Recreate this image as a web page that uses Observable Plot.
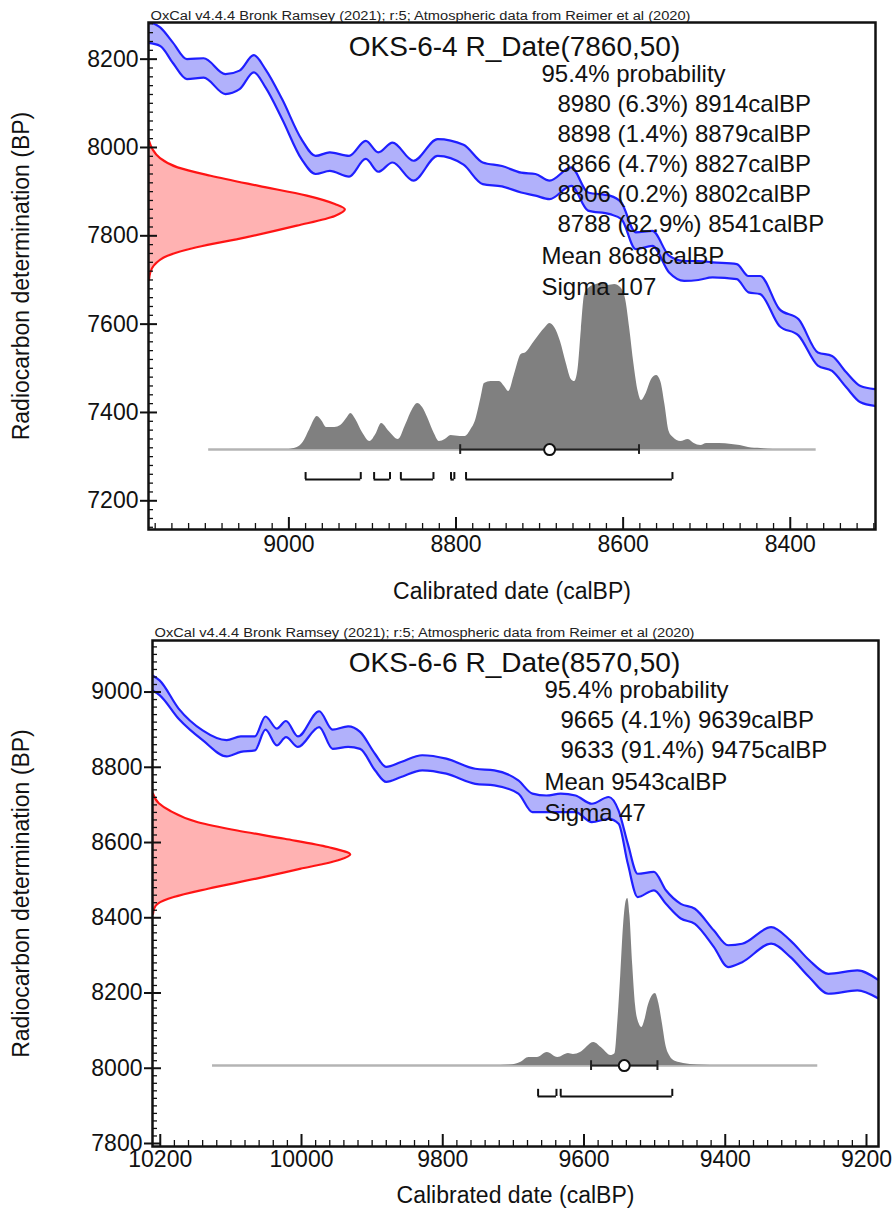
<!DOCTYPE html>
<html><head><meta charset="utf-8">
<script src="https://cdn.jsdelivr.net/npm/d3@7"></script>
<script src="https://cdn.jsdelivr.net/npm/@observablehq/plot@0.6"></script>
<style>
body{margin:0;background:#fff;}
#wrap{width:892px;}
svg{display:block;}
</style></head><body><div id="wrap"></div>
<script>
// ---------------- shared text ----------------
const credit = "OxCal v4.4.4 Bronk Ramsey (2021); r:5; Atmospheric data from Reimer et al (2020)";
const xLabel = "Calibrated date (calBP)";
const yLabel = "Radiocarbon determination (BP)";

// ---------------- chart 1: OKS-6-4 ----------------
const c1Sample = "OKS-6-4";
const c1Date = [7860, 50];
const c1From = [8980, 8898, 8866, 8806, 8788];
const c1To   = [8914, 8879, 8827, 8802, 8541];
const c1Pct  = ["6.3", "1.4", "4.7", "0.2", "82.9"];
const c1Mean = 8688, c1Sigma = 107;
const c1XTicks = [9000, 8800, 8600, 8400];
const c1YTicks = [7200, 7400, 7600, 7800, 8000, 8200];
const c1CurveCal = [9170,9154,9139,9122,9102,9076,9059,9042,9028,9008,8985,8968,8951,8928,8908,8893,8876,8851,8822,8791,8768,8745,8722,8705,8688,8662,8642,8616,8602,8585,8565,8545,8527,8510,8493,8464,8450,8436,8413,8390,8367,8350,8333,8316,8299];
const c1CurveHi  = [8285,8272,8238,8200,8202,8166,8174,8209,8177,8109,8019,7981,7989,7981,8015,7989,8011,7970,8019,8006,7966,7958,7943,7940,7925,7955,7898,7891,7875,7808,7811,7755,7743,7743,7740,7736,7709,7709,7634,7611,7536,7528,7491,7460,7453];
const c1CurveLo  = [8237,8230,8192,8155,8158,8121,8132,8170,8136,8064,7974,7940,7947,7934,7974,7945,7966,7925,7981,7961,7917,7912,7898,7891,7883,7913,7857,7849,7838,7770,7777,7717,7698,7700,7706,7702,7672,7668,7596,7574,7506,7494,7457,7423,7415];
const c1RedBP = [8015,7996,7977,7955,7936,7913,7891,7872,7860,7845,7823,7796,7774,7755,7732,7715,7700];
const c1RedD  = [0.5,4,11,29,62,110,158,186,196,186,148,96,48,19,5,1.5,0.5];
const c1PostCal = [9000,8990,8983,8975,8966,8960,8955,8945,8938,8930,8926,8920,8912,8903,8896,8889,8880,8869,8860,8852,8846,8840,8834,8826,8820,8813,8806,8795,8789,8782,8777,8770,8766,8758,8748,8742,8737,8730,8722,8716,8708,8700,8693,8688,8682,8675,8668,8662,8658,8654,8650,8646,8640,8632,8625,8618,8610,8603,8597,8592,8587,8582,8578,8573,8566,8560,8555,8550,8545,8540,8531,8522,8515,8507,8500,8485,8470,8460,8450,8435,8420];
const c1PostP   = [0,2,7,20,33,28,22,22,24,32,36,30,17,8,15,26,18,10,25,40,46,42,32,16,8,10,14,13,13,20,28,52,66,68,68,63,58,75,95,97,106,115,122,126,122,108,86,70,68,80,120,155,162,165,167,164,165,162,150,120,85,58,49,55,70,74,68,45,18,12,8,10,6,4,6,6,5,4,2,1,0];
const c1Span = [9096, 8369];

// ---------------- chart 2: OKS-6-6 ----------------
const c2Sample = "OKS-6-6";
const c2Date = [8570, 50];
const c2From = [9665, 9633];
const c2To   = [9639, 9475];
const c2Pct  = ["4.1", "91.4"];
const c2Mean = 9543, c2Sigma = 47;
const c2XTicks = [10200, 10000, 9800, 9600, 9400, 9200];
const c2YTicks = [7800, 8000, 8200, 8400, 8600, 8800, 9000];
const c2CurveCal = [10211,10201,10174,10140,10106,10086,10066,10051,10035,10022,10005,9975,9956,9934,9917,9896,9880,9859,9829,9795,9754,9727,9693,9673,9653,9633,9612,9589,9565,9551,9538,9524,9501,9484,9463,9443,9416,9396,9376,9335,9308,9281,9254,9213,9183];
const c2CurveHi  = [9044,9031,8956,8898,8872,8882,8882,8935,8903,8923,8882,8949,8900,8909,8894,8836,8801,8814,8832,8823,8796,8792,8765,8730,8725,8730,8725,8703,8721,8685,8597,8517,8522,8473,8437,8424,8366,8327,8331,8375,8340,8287,8251,8260,8234];
const c2CurveLo  = [9004,8992,8929,8872,8829,8841,8845,8900,8858,8880,8854,8907,8849,8854,8849,8792,8761,8774,8792,8783,8756,8752,8730,8681,8681,8681,8681,8654,8663,8650,8544,8455,8473,8437,8398,8384,8322,8269,8282,8331,8296,8242,8198,8207,8185];
const c2RedBP = [8730,8705,8685,8654,8632,8610,8588,8568,8553,8530,8504,8477,8455,8437,8424,8410];
const c2RedD  = [0.5,6,17,45,84,131,174,196,184,146,103,55,21,5,1.5,0.5];
const c2PostCal = [9718,9704,9690,9678,9666,9652,9637,9622,9615,9605,9586,9574,9562,9556,9552,9548,9544,9540,9538,9535,9531,9527,9522,9518,9514,9509,9503,9499,9494,9489,9484,9478,9473,9465,9459,9440,9421];
const c2PostP   = [0,0.5,3,8,8,13,8,12,11,13,23,17,10,12,45,90,140,165,167,150,100,60,42,38,45,60,70,72,62,42,20,9,5,3,2,0.5,0];
const c2Span = [10126, 9269];

const FONT = "'Liberation Sans', Arial, sans-serif";

function chart(c) {
  const plotW = 892 - c.ml - c.mr, plotH = c.h - c.mt - c.mb;
  const curve = c.cal.map((x, i) => ({x, hi: c.hi[i], lo: c.lo[i]}));
  const rMax = d3.max(c.redD);
  const red = c.redBP.map((y, i) => ({y, x0: c.xDomain[0], x: c.xDomain[0] - c.redD[i] / rMax * c.redSpan}));
  const pMax = d3.max(c.postP);
  const post = c.postCal.map((x, i) => ({x, y: c.base + c.postP[i] / pMax * c.postSpan}));
  const ranges = c.from.map((f, i) => ({f, t: c.to[i]}));
  const ends = ranges.flatMap(r => [r.f, r.t]);
  const bY = c.base - c.bracketGap;
  const xMinor = d3.range(Math.ceil(Math.min(...c.xDomain) / 20) * 20, Math.max(...c.xDomain), 20).filter(v => v % 200 !== 0);
  const yMinor = d3.range(Math.ceil(c.yDomain[0] / 20) * 20, c.yDomain[1], 20).filter(v => v % 200 !== 0);
  const txt = (s, dx, dy, o = {}) => Plot.text([s], {text: d => d, frameAnchor: "top-left", dx, dy, textAnchor: "start", lineAnchor: "middle", fontSize: 24, fill: "#111", ...o});
  const lines = [
    txt(credit, 2, c.creditDy, {fontSize: 12.5, fill: "#222"}),
    txt(`${c.sample} R_Date(${c.date[0]},${c.date[1]})`, c.titleDx, c.t0 - 27, {textAnchor: "middle", fontSize: 28}),
    txt("95.4% probability", c.textDx, c.t0)
  ];
  c.from.forEach((f, i) => lines.push(txt(`${f} (${c.pct[i]}%) ${c.to[i]}calBP`, c.textDx + 16, c.t0 + c.ls * (i + 1))));
  lines.push(txt(`Mean ${c.mean}calBP`, c.textDx, c.t0 + c.ls * (c.from.length + 1) + 2));
  lines.push(txt(`Sigma ${c.sigma}`, c.textDx, c.t0 + c.ls * (c.from.length + 2) + 3));

  const svg = Plot.plot({
    width: 892, height: c.h,
    marginLeft: c.ml, marginRight: c.mr, marginTop: c.mt, marginBottom: c.mb,
    style: {fontFamily: FONT, fontSize: "23px", background: "#fff", color: "#111", overflow: "visible"},
    x: {domain: c.xDomain},
    y: {domain: c.yDomain},
    marks: [
      Plot.areaY(curve, {x: "x", y1: "lo", y2: "hi", fill: "#b1b1fb", curve: "monotone-x", clip: true}),
      Plot.lineY(curve, {x: "x", y: "hi", stroke: "#1f1fff", strokeWidth: 2.2, curve: "monotone-x", clip: true}),
      Plot.lineY(curve, {x: "x", y: "lo", stroke: "#1f1fff", strokeWidth: 2.2, curve: "monotone-x", clip: true}),
      Plot.areaX(red, {y: "y", x1: "x0", x2: "x", fill: "#ffb2b2", curve: "monotone-y"}),
      Plot.line(red, {x: "x", y: "y", stroke: "#ff1414", strokeWidth: 2.2, curve: "monotone-y"}),
      Plot.ruleY([c.base], {x1: c.span[0], x2: c.span[1], stroke: "#b4b4b4", strokeWidth: 2.5}),
      Plot.areaY(post, {x: "x", y1: c.base, y2: "y", fill: "#808080", curve: "monotone-x"}),
      Plot.ruleY(ranges, {x1: "f", x2: "t", y: bY, stroke: "#111", strokeWidth: 2}),
      Plot.ruleX(ends, {x: d => d, y1: bY, y2: bY + c.bracketTick, stroke: "#111", strokeWidth: 2}),
      Plot.ruleY([c.mean], {x1: d => d + c.sigma, x2: d => d - c.sigma, y: c.base, stroke: "#222", strokeWidth: 2}),
      Plot.ruleX([c.mean + c.sigma, c.mean - c.sigma], {x: d => d, y1: c.base - c.barTick, y2: c.base + c.barTick, stroke: "#222", strokeWidth: 2}),
      Plot.dot([c.mean], {x: d => d, y: c.base, r: 5.5, fill: "#fff", stroke: "#111", strokeWidth: 2}),
      ...lines,
      Plot.tickX(xMinor, {x: d => d, insetTop: plotH - 6, stroke: "#111", strokeWidth: 1.3}),
      Plot.tickX(c.xTicks, {x: d => d, insetTop: plotH - 12, stroke: "#111", strokeWidth: 2}),
      Plot.tickY(yMinor, {y: d => d, insetRight: plotW - 5, stroke: "#111", strokeWidth: 1.3}),
      Plot.tickY(c.yTicks, {y: d => d, insetRight: plotW - 9, stroke: "#111", strokeWidth: 2}),
      Plot.frame({stroke: "#111", strokeWidth: 2.5}),
      Plot.axisX(c.xTicks, {tickSize: 0, tickPadding: c.xPad, tickFormat: d => String(d), fontSize: 23,
        label: xLabel, labelAnchor: "center", labelOffset: c.xLabelOffset, labelArrow: "none"}),
      Plot.axisY(c.yTicks, {tickSize: 8, tickPadding: 2, tickFormat: d => String(d), fontSize: 23, strokeWidth: 2,
        label: yLabel, labelAnchor: "center", labelOffset: c.yLabelOffset, labelArrow: "none"})
    ]
  });
  // stretch the small credit line to the reference's width
  d3.select(svg).selectAll("text").filter(function () { return this.textContent === credit; })
    .attr("textLength", 540).attr("lengthAdjust", "spacingAndGlyphs");
  return svg;
}

const wrap = document.getElementById("wrap");
wrap.append(chart({
  h: 610, ml: 148, mr: 17, mt: 22, mb: 81,
  xDomain: [9168, 8298], yDomain: [7135, 8283],
  cal: c1CurveCal, hi: c1CurveHi, lo: c1CurveLo,
  redBP: c1RedBP, redD: c1RedD, redSpan: 235,
  postCal: c1PostCal, postP: c1PostP, base: 7316, postSpan: 378, span: c1Span,
  from: c1From, to: c1To, pct: c1Pct, mean: c1Mean, sigma: c1Sigma,
  bracketGap: 68, bracketTick: 16, barTick: 11,
  xTicks: c1XTicks, yTicks: c1YTicks,
  sample: c1Sample, date: c1Date,
  creditDy: -7, titleDx: 366, textDx: 393, t0: 52, ls: 30,
  xPad: 6, xLabelOffset: 69, yLabelOffset: 136
}));
wrap.append(chart({
  h: 610, ml: 152, mr: 14, mt: 30, mb: 74,
  xDomain: [10211, 9183], yDomain: [7792, 9137],
  cal: c2CurveCal, hi: c2CurveHi, lo: c2CurveLo,
  redBP: c2RedBP, redD: c2RedD, redSpan: 280,
  postCal: c2PostCal, postP: c2PostP, base: 8007, postSpan: 444, span: c2Span,
  from: c2From, to: c2To, pct: c2Pct, mean: c2Mean, sigma: c2Sigma,
  bracketGap: 82, bracketTick: 19, barTick: 13,
  xTicks: c2XTicks, yTicks: c2YTicks,
  sample: c2Sample, date: c2Date,
  creditDy: -8, titleDx: 362, textDx: 392, t0: 50, ls: 30,
  xPad: 4, xLabelOffset: 56, yLabelOffset: 140
}));
</script></body></html>
